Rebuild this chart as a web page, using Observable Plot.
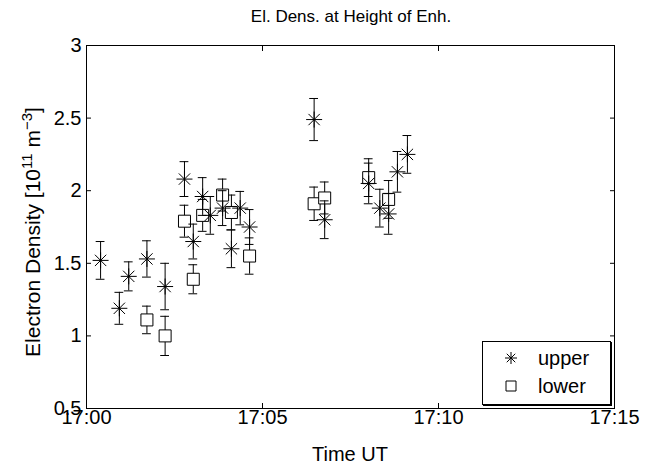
<!DOCTYPE html>
<html>
<head>
<meta charset="utf-8">
<script src="https://cdn.jsdelivr.net/npm/d3@7"></script>
<script src="https://cdn.jsdelivr.net/npm/@observablehq/plot@0.6"></script>
<style>
  body { margin: 0; background: #fff; font-family: "Liberation Sans", Arial, sans-serif; }
  #wrap { position: relative; width: 652px; height: 467px; }
  #title { height: 32px; width: 652px; position: relative; }
  #title span { position: absolute; left: 351px; top: 7px; transform: translateX(-50%); font-size: 17px; white-space: nowrap; }
  #legend { position: absolute; left: 482px; top: 341px; width: 129px; height: 64px; box-sizing: border-box;
            border: 1px solid #000; box-shadow: 1px 1px 0 #000; background: #fff; font-size: 20px; }
  .row { position: absolute; left: 0; height: 26px; display: flex; align-items: center; }
  .row svg { margin-left: 20px; }
  .row span { margin-left: 19px; }
</style>
</head>
<body>
<div id="wrap">
  <div id="title"><span>El. Dens. at Height of Enh.</span></div>
  <div id="chart"></div>
  <div id="legend"></div>
</div>
<script>
// ---- data ----
const upperTimes = ["17:00:24","17:00:56","17:01:12","17:01:43","17:02:14","17:02:47","17:03:02","17:03:18","17:03:31","17:03:52","17:04:07","17:04:22","17:04:38","17:06:28","17:06:46","17:08:01","17:08:20","17:08:35","17:08:50","17:09:07"];
const upperValues = [1.52,1.19,1.41,1.53,1.34,2.08,1.65,1.96,1.83,1.88,1.60,1.88,1.75,2.49,1.80,2.05,1.88,1.84,2.13,2.25];
const upperErrors = [0.13,0.11,0.10,0.125,0.16,0.12,0.12,0.13,0.13,0.12,0.13,0.115,0.12,0.145,0.13,0.14,0.13,0.14,0.14,0.13];

const lowerTimes = ["17:01:43","17:02:14","17:02:47","17:03:02","17:03:18","17:03:52","17:04:07","17:04:38","17:06:28","17:06:46","17:08:01","17:08:35"];
const lowerValues = [1.11,1.00,1.79,1.39,1.83,1.97,1.85,1.55,1.91,1.95,2.09,1.94];
const lowerErrors = [0.095,0.135,0.11,0.10,0.11,0.11,0.12,0.125,0.115,0.11,0.13,0.13];

const xTickLabels = ["17:00","17:05","17:10","17:15"];
const yTicks = [0.5,1,1.5,2,2.5,3];
const seriesNames = ["upper","lower"];

// ---- build ----
const parseT = d3.utcParse("%H:%M:%S");
const parseHM = d3.utcParse("%H:%M");
const mk = (times, vals, errs) => times.map((t,i) => ({t: parseT(t), v: vals[i], e: errs[i]}));
const upper = mk(upperTimes, upperValues, upperErrors);
const lower = mk(lowerTimes, lowerValues, lowerErrors);
const xTicks = xTickLabels.map(parseHM);
const capHalf = 7500; // ms

const asterisk = { draw(ctx, size) {
  const r = Math.sqrt(size / Math.PI), d = r * Math.SQRT1_2;
  ctx.moveTo(-r,0); ctx.lineTo(r,0); ctx.moveTo(0,-r); ctx.lineTo(0,r);
  ctx.moveTo(-d,-d); ctx.lineTo(d,d); ctx.moveTo(-d,d); ctx.lineTo(d,-d);
}};
const square = { draw(ctx, size) {
  const r = Math.sqrt(size / Math.PI);
  ctx.rect(-r,-r,2*r,2*r);
}};

function errMarks(data) {
  return [
    Plot.ruleX(data, {x: "t", y1: d => d.v - d.e, y2: d => d.v + d.e, stroke: "#000", strokeWidth: 1}),
    Plot.ruleY(data, {y: d => d.v - d.e, x1: d => new Date(+d.t - capHalf), x2: d => new Date(+d.t + capHalf), stroke: "#000"}),
    Plot.ruleY(data, {y: d => d.v + d.e, x1: d => new Date(+d.t - capHalf), x2: d => new Date(+d.t + capHalf), stroke: "#000"})
  ];
}

const plot = Plot.plot({
  width: 652, height: 435,
  marginTop: 13, marginBottom: 59, marginLeft: 86, marginRight: 38,
  style: {fontSize: "20px", fontFamily: "'Liberation Sans', Arial, sans-serif", color: "#000", background: "#fff"},
  x: {type: "utc", domain: [xTicks[0], xTicks[xTicks.length-1]]},
  y: {domain: [0.5, 3]},
  marks: [
    ...errMarks(lower),
    Plot.dot(lower, {x: "t", y: "v", symbol: square, r: 6, stroke: "#000", fill: "#fff", strokeWidth: 1}),
    ...errMarks(upper),
    Plot.dot(upper, {x: "t", y: "v", symbol: asterisk, r: 8, stroke: "#000", strokeWidth: 1}),
    Plot.frame({stroke: "#000"}),
    Plot.axisX(xTicks, {anchor: "bottom", tickSize: -5, fill: "none", stroke: "#000"}),
    Plot.axisX(xTicks, {anchor: "top", tickSize: -5, fill: "none", stroke: "#000", label: null}),
    Plot.axisX(xTicks, {anchor: "bottom", tickSize: 0, tickPadding: 1, stroke: "none", tickFormat: d3.utcFormat("%H:%M"), label: null}),
    Plot.axisY(yTicks, {anchor: "left", tickSize: -5, fill: "none", stroke: "#000"}),
    Plot.axisY(yTicks, {anchor: "right", tickSize: -5, fill: "none", stroke: "#000", label: null}),
    Plot.axisY(yTicks, {anchor: "left", tickSize: 0, tickPadding: 5, stroke: "none", tickFormat: d => String(d), label: null})
  ]
});
document.getElementById("chart").appendChild(plot);

// axis titles as real text
const svg = d3.select(plot);
svg.append("text").attr("x", 350).attr("y", 429).attr("text-anchor", "middle")
  .attr("font-size", 20).text("Time UT");
const yl = svg.append("text").attr("transform", "translate(40,200) rotate(-90)")
  .attr("text-anchor", "middle").attr("font-size", 21);
yl.append("tspan").text("Electron Density [10");
yl.append("tspan").attr("baseline-shift", "super").attr("font-size", 15).text("11");
yl.append("tspan").text(" m");
yl.append("tspan").attr("baseline-shift", "super").attr("font-size", 15).text("\u22123");
yl.append("tspan").text("]");

// legend
const leg = d3.select("#legend");
const syms = [asterisk, square];
seriesNames.forEach((name, i) => {
  const row = leg.append("div").attr("class", "row").style("top", (i === 0 ? 3 : 31) + "px");
  const s = row.append("svg").attr("width", 16).attr("height", 16);
  s.append("path").attr("transform", "translate(8,8)")
    .attr("d", d3.symbol(syms[i], i === 0 ? Math.PI * 36 : Math.PI * 25)())
    .attr("fill", i === 0 ? "none" : "#fff").attr("stroke", "#000");
  row.append("span").text(name);
});
</script>
</body>
</html>
